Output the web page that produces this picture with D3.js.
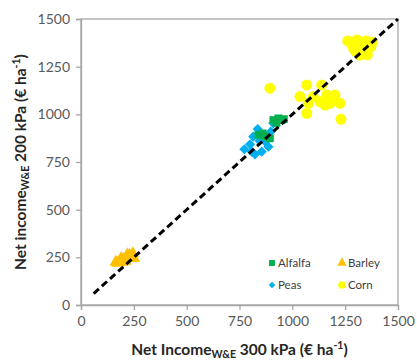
<!DOCTYPE html>
<html><head><meta charset="utf-8">
<script src="https://cdn.jsdelivr.net/npm/d3@7/dist/d3.min.js"></script>
<style>body{margin:0;background:#fff}svg{display:block}</style>
</head><body>
<script>
const xTicks = [0, 250, 500, 750, 1000, 1250, 1500];
const yTicks = [0, 250, 500, 750, 1000, 1250, 1500];
const alfalfaX = [910, 934, 950, 839, 871, 894, 925, 960, 860];
const alfalfaY = [970, 979, 970, 892, 883, 874, 955, 975, 900];
const barleyX = [165, 175, 185, 195, 200, 210, 215, 225, 230, 240, 245, 250, 190, 220];
const barleyY = [225, 220, 235, 225, 240, 230, 250, 245, 260, 255, 270, 245, 245, 265];
const peasX = [773, 800, 815, 836, 823, 855, 871, 887, 898, 910, 887, 808, 845];
const peasY = [817, 843, 883, 923, 790, 804, 857, 874, 909, 953, 830, 804, 860];
const cornX = [894, 1068, 1139, 1036, 1099, 1163, 1202, 1076, 1131, 1178, 1226, 1068, 1155, 1230,
  1262, 1280, 1295, 1305, 1320, 1335, 1350, 1365, 1378, 1300, 1320, 1355, 1290, 1340, 1372, 1310];
const cornY = [1137, 1154, 1154, 1093, 1093, 1101, 1101, 1058, 1066, 1058, 1058, 1005, 1049, 974,
  1385, 1370, 1362, 1390, 1378, 1352, 1385, 1362, 1378, 1330, 1310, 1312, 1345, 1335, 1355, 1350];
const seriesNames = ["Alfalfa", "Barley", "Peas", "Corn"];
const seriesColors = ["#00B050", "#FFC000", "#00B0F0", "#FFFF00"];
const lineStart = 60, lineEnd = 1500;

const W = 417, H = 361;
const m = {l: 81, r: 19, t: 19, b: 56};
const svg = d3.select("body").append("svg").attr("width", W).attr("height", H);
const x = d3.scaleLinear().domain([0, 1500]).range([m.l, W - m.r]);
const y = d3.scaleLinear().domain([0, 1500]).range([H - m.b, m.t]);
const font = "Lato, 'Open Sans', sans-serif";

svg.append("rect").attr("x", x(0)).attr("y", y(1500)).attr("width", x(1500) - x(0)).attr("height", y(0) - y(1500))
  .attr("fill", "none").attr("stroke", "#a6a6a6").attr("stroke-width", 1.3);

const xAxis = svg.append("g").attr("transform", `translate(0,${y(0)})`)
  .call(d3.axisBottom(x).tickValues(xTicks).tickSize(5).tickPadding(6).tickFormat(d3.format("d")));
const yAxis = svg.append("g").attr("transform", `translate(${x(0)},0)`)
  .call(d3.axisLeft(y).tickValues(yTicks).tickSize(5).tickPadding(6).tickFormat(d3.format("d")));
[xAxis, yAxis].forEach(a => {
  a.selectAll("path,line").attr("stroke", "#a6a6a6").attr("stroke-width", 1.3);
  a.selectAll("text").attr("fill", "#595959").style("font-family", font).style("font-size", "14px");
});

const sym = [d3.symbolSquare, d3.symbolTriangle, d3.symbolSquare, d3.symbolCircle];
const rot = [0, 0, 45, 0];
const sizes = [60, 70, 52, 95];
const data = [
  alfalfaX.map((v, i) => [v, alfalfaY[i]]),
  barleyX.map((v, i) => [v, barleyY[i]]),
  peasX.map((v, i) => [v, peasY[i]]),
  cornX.map((v, i) => [v, cornY[i]])
];
const drawOrder = [2, 0, 1, 3];
drawOrder.forEach(s => {
  svg.append("g").selectAll("path").data(data[s]).join("path")
    .attr("transform", d => `translate(${x(d[0])},${y(d[1])}) rotate(${rot[s]})`)
    .attr("d", d3.symbol().type(sym[s]).size(sizes[s]))
    .attr("fill", seriesColors[s]);
});

svg.append("line").attr("x1", x(lineStart)).attr("y1", y(lineStart)).attr("x2", x(lineEnd)).attr("y2", y(lineEnd))
  .attr("stroke", "#000").attr("stroke-width", 3).attr("stroke-dasharray", "7,4");

const lg = svg.append("g");
const legPos = [[272, 263], [342, 263], [272, 285], [342, 285]];
const legSizes = [35, 38, 22, 45];
seriesNames.forEach((n, i) => {
  lg.append("path").attr("transform", `translate(${legPos[i][0]},${legPos[i][1]}) rotate(${rot[i]})`)
    .attr("d", d3.symbol().type(sym[i]).size(legSizes[i])).attr("fill", seriesColors[i]);
  lg.append("text").attr("x", legPos[i][0] + 6).attr("y", legPos[i][1]).attr("dy", "0.35em")
    .style("font-family", font).style("font-size", "11.5px").attr("fill", "#404040").text(n);
});

const xt = svg.append("text").attr("x", (x(0) + x(1500)) / 2).attr("y", 355).attr("text-anchor", "middle")
  .style("font-family", font).style("font-size", "15.5px").style("font-weight", "bold").attr("fill", "#262626");
xt.append("tspan").text("Net Income");
xt.append("tspan").attr("dy", 3).style("font-size", "10.5px").text("W&E");
xt.append("tspan").attr("dy", -3).text(" 300 kPa (€ ha");
xt.append("tspan").attr("dy", -6).style("font-size", "10.5px").text("-1");
xt.append("tspan").attr("dy", 6).text(")");

const yt = svg.append("text").attr("transform", `translate(26,${(y(0) + y(1500)) / 2}) rotate(-90)`)
  .attr("text-anchor", "middle")
  .style("font-family", font).style("font-size", "15.5px").style("font-weight", "bold").attr("fill", "#262626");
yt.append("tspan").text("Net income");
yt.append("tspan").attr("dy", 3).style("font-size", "10.5px").text("W&E");
yt.append("tspan").attr("dy", -3).text(" 200 kPa (€ ha");
yt.append("tspan").attr("dy", -6).style("font-size", "10.5px").text("-1");
yt.append("tspan").attr("dy", 6).text(")");
</script>
</body></html>
